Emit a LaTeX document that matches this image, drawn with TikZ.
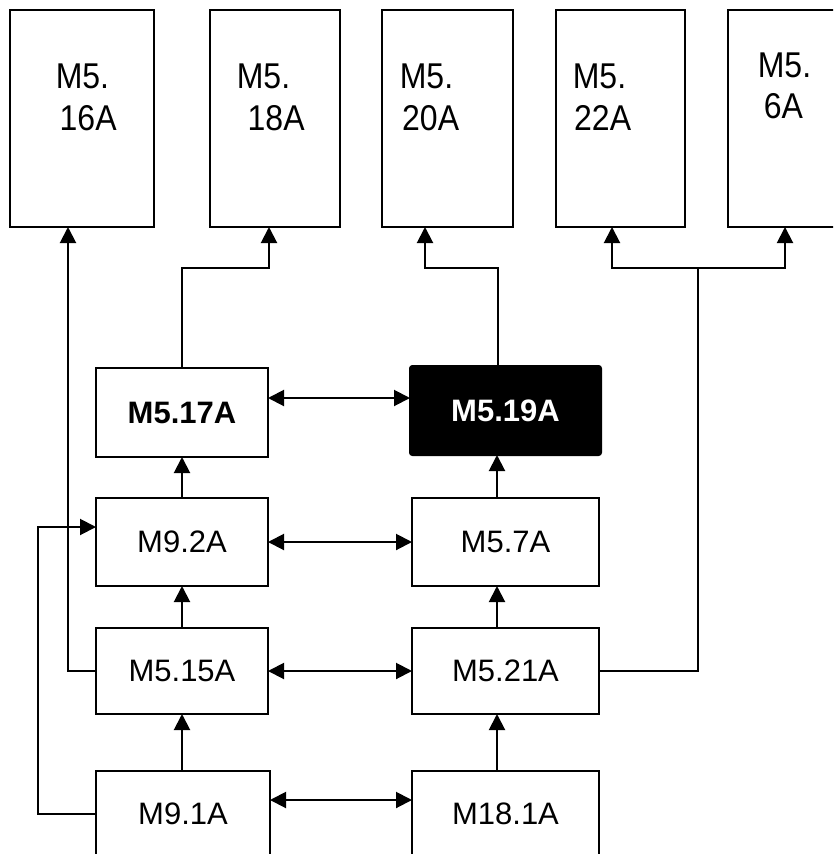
\documentclass[tikz,border=0pt]{standalone}
\usepackage{fontspec}
\usepackage{graphicx}
\setmainfont{Liberation Sans}
\usetikzlibrary{arrows.meta}
\tikzset{
  box/.style={draw, line width=2pt, inner sep=0pt, outer sep=0pt, fill=white,
    font=\fontsize{31}{37}\selectfont},
  tallbox/.style={box, minimum height=217},
  midbox/.style={box, minimum height=88},
  darkbox/.style={box, fill=black, text=white, rounded corners=2.5pt,
    font=\fontsize{31}{37}\selectfont\bfseries},
  toptext/.style={anchor=base west, inner sep=0pt, font=\fontsize{32}{38}\selectfont},
  conn/.style={line width=2pt},
  arr/.style={conn, -{Triangle[length=16pt,width=16pt]}},
  darr/.style={conn, {Triangle[length=16pt,width=16pt]}-{Triangle[length=16pt,width=16pt]}}
}
\newcommand{\tallt}[1]{\scalebox{1}[1.12]{#1}}
\begin{document}
\begin{tikzpicture}[x=1pt,y=-1pt]
\useasboundingbox (0,0) rectangle (833,854);
\clip (0,0) rectangle (833,854);
\fill[white] (0,0) rectangle (833,854);
% top boxes
\node[tallbox, minimum width=144] (b16) at (82,118.5) {};
\node[tallbox, minimum width=130] (b18) at (275,118.5) {};
\node[tallbox, minimum width=131] (b20) at (447.5,118.5) {};
\node[tallbox, minimum width=129] (b22) at (620.5,118.5) {};
\node[tallbox, minimum width=132] (b6) at (794,118.5) {};
% top texts
\node[toptext] (t16a) at (55.6,88) {\tallt{M5.}};
\node[toptext] (t16b) at (59.5,130) {\tallt{16A}};
\node[toptext] (t18a) at (236.6,88) {\tallt{M5.}};
\node[toptext] (t18b) at (247.5,130) {\tallt{18A}};
\node[toptext] (t20a) at (399.6,88) {\tallt{M5.}};
\node[toptext] (t20b) at (402,130) {\tallt{20A}};
\node[toptext] (t22a) at (572.6,88) {\tallt{M5.}};
\node[toptext] (t22b) at (574,130) {\tallt{22A}};
\node[toptext] (t6a) at (757.6,77) {\tallt{M5.}};
\node[toptext] (t6b) at (763.7,118) {\tallt{6A}};
% middle boxes
\node[midbox, minimum width=172, minimum height=89, font=\fontsize{31}{37}\selectfont\bfseries] (m17) at (182,412.5) {M5.17A};
\node[darkbox, minimum width=191, minimum height=89] (m19) at (505.5,410.5) {M5.19A};
\node[midbox, minimum width=172] (m92) at (182,542) {M9.2A};
\node[midbox, minimum width=187] (m57) at (505.5,542) {M5.7A};
\node[midbox, minimum width=172, minimum height=86] (m515) at (182,671) {M5.15A};
\node[midbox, minimum width=187, minimum height=86] (m521) at (505.5,671) {M5.21A};
\node[midbox, minimum width=174, minimum height=86] (m91) at (183,814) {M9.1A};
\node[midbox, minimum width=187, minimum height=86] (m181) at (505.5,814) {M18.1A};
% vertical arrows
\draw[arr] (m92.north) -- (m17.south);
\draw[arr] (m515.north) -- (m92.south);
\draw[arr] ([xshift=-1pt]m91.north) -- ([xshift=-1pt]m91.north |- m515.south);
\draw[arr] ([xshift=-8.5pt]m57.north) -- ([xshift=-8.5pt]m57.north |- m19.south);
\draw[arr] ([xshift=-8.5pt]m521.north) -- ([xshift=-8.5pt]m57.south);
\draw[arr] ([xshift=-8.5pt]m181.north) -- ([xshift=-8.5pt]m521.south);
% horizontal double arrows
\draw[darr] ([yshift=14.5pt]m17.east) -- ([yshift=14.5pt]m17.east -| m19.west);
\draw[darr] (m92.east) -- (m57.west);
\draw[darr] (m515.east) -- (m521.west);
\draw[darr] ([yshift=14pt]m91.east) -- ([yshift=14pt]m91.east -| m181.west);
% connections to top boxes
\draw[arr] (m515.west) -| ([xshift=-14pt]b16.south);
\draw[arr] (m91.west) -- ++(-58,0) |- ([yshift=15pt]m92.west);
\draw[arr] (m17.north) -- ++(0,-100) -| ([xshift=-6pt]b18.south);
\draw[arr] ([xshift=-7.5pt]m19.north) -- ++(0,-98) -| ([xshift=-22.5pt]b20.south);
\coordinate (split) at (698,268);
\draw[conn] (m521.east) -| (split);
\draw[arr] (split) -| ([xshift=-8.5pt]b22.south);
\draw[arr] (split) -| ([xshift=-9pt]b6.south);
\end{tikzpicture}
\end{document}
